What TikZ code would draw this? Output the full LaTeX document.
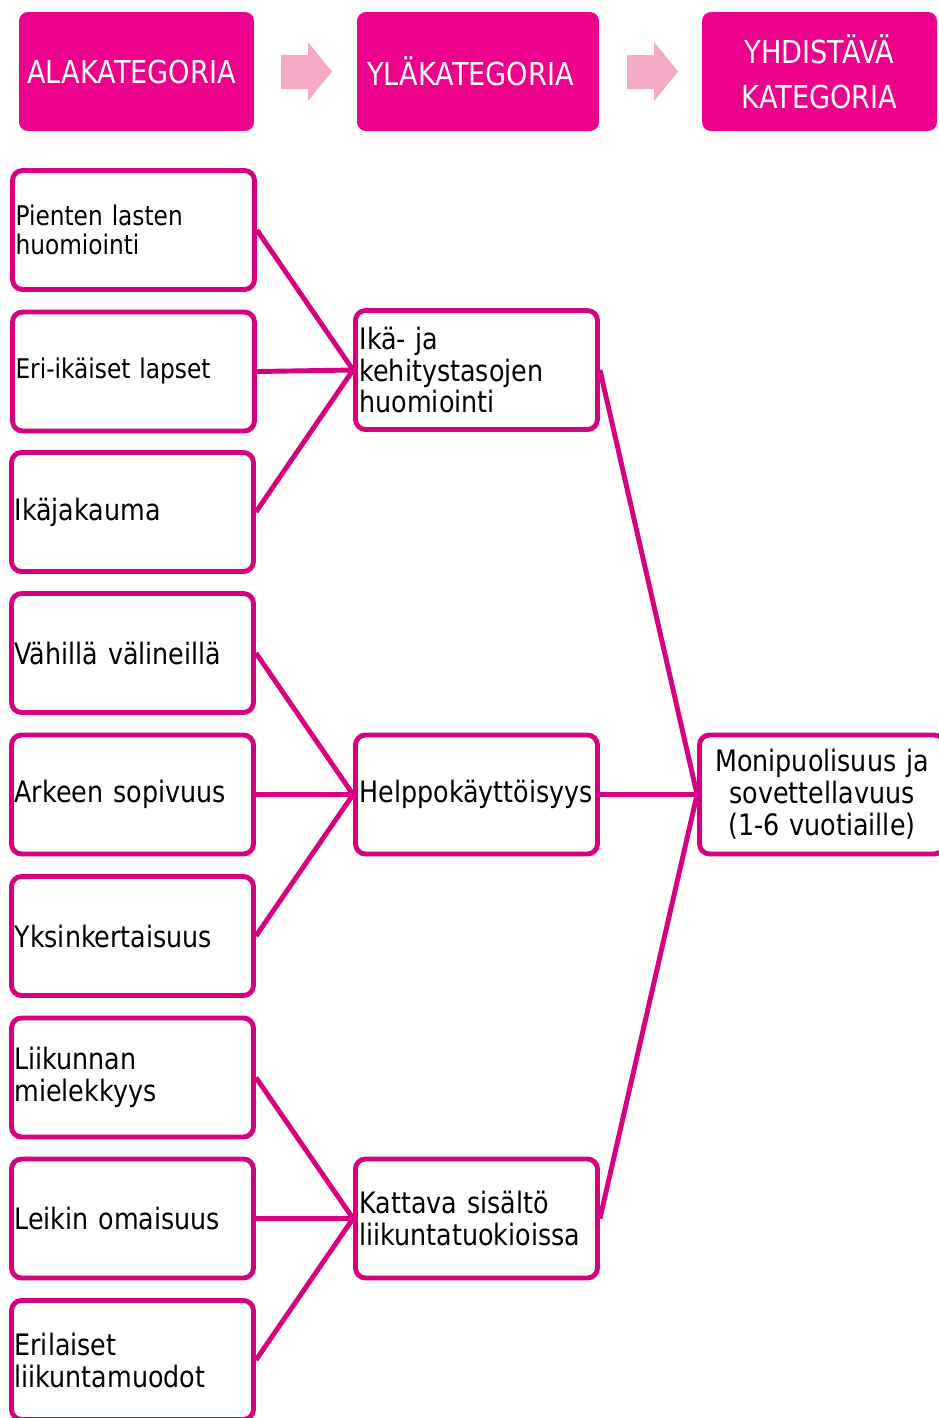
\documentclass[tikz,border=0pt]{standalone}
\usepackage{fontspec}
\setmainfont{DejaVu Sans}[FakeStretch=0.86]
\usetikzlibrary{positioning}

\definecolor{headpink}{RGB}{236,0,140}
\definecolor{linepink}{RGB}{214,0,128}
\definecolor{arrowpink}{RGB}{244,170,198}

\begin{document}
\begin{tikzpicture}[x=0.02cm, y=-0.02cm]
        \tikzset{
            header/.style={
                fill=headpink,
                rounded corners=0.18cm,
                text=white,
                align=center,
                inner sep=0pt,
                minimum height=2.38cm,
                font=\fontsize{18}{25.5}\selectfont
            },
            blockarrow/.style={fill=arrowpink},
            catbox/.style={
                draw=linepink,
                fill=white,
                line width=2.8pt,
                rounded corners=0.2cm,
                minimum height=2.38cm,
                inner ysep=0pt,
                font=\fontsize{16.8}{18.2}\selectfont
            },
            alabox/.style={catbox, text width=4.72cm, inner xsep=0.06cm, align=left},
            smalltext/.style={font=\fontsize{15.4}{16.4}\selectfont},
            ylabox/.style={catbox, text width=4.68cm, inner xsep=0.08cm, align=left},
            yhdbox/.style={catbox, text width=4.78cm, inner xsep=0.06cm, align=center},
            link/.style={draw=linepink, line width=2.8pt}
        }

        \useasboundingbox (0,0) rectangle (938,1418);

        % otsikot
        \node[header, minimum width=4.70cm] (headAla) at (136.5,71.5) {\hspace*{-0.2cm}ALAKATEGORIA};
        \node[header, minimum width=4.84cm] (headYla) at (478,71.5) {\hspace*{-0.3cm}YLÄKATEGORIA};
        \node[header, minimum width=4.70cm] (headYhd) at (819.5,71.5) {YHDISTÄVÄ\\KATEGORIA};

        \foreach \ax in {281, 627} {
            \fill[blockarrow, shift={(\ax,0)}]
                (0,55) -- (27,55) -- (27,42) -- (51,71.5) -- (27,101) -- (27,89) -- (0,89) -- cycle;
        }

        % alakategoriat
        \node[alabox, smalltext] (ala1) at (133.5,230) {Pienten lasten\\huomiointi};
        \node[alabox, smalltext] (ala2) at (133.5,371.5) {Eri-ikäiset lapset};
        \node[alabox] (ala3) at (132.5,512) {Ikäjakauma};
        \node[alabox] (ala4) at (132.5,653) {Vähillä välineillä};
        \node[alabox] (ala5) at (132.5,794.5) {Arkeen sopivuus};
        \node[alabox] (ala6) at (132.5,936) {Yksinkertaisuus};
        \node[alabox] (ala7) at (132.5,1077.5) {Liikunnan\\mielekkyys};
        \node[alabox] (ala8) at (132.5,1218.5) {Leikin omaisuus};
        \node[alabox] (ala9) at (132.5,1360) {Erilaiset\\liikuntamuodot};

        % yläkategoriat
        \node[ylabox] (yla1) at (476.5,370) {Ikä- ja\\kehitystasojen\\huomiointi};
        \node[ylabox] (yla2) at (476.5,794.5) {Helppokäyttöisyys};
        \node[ylabox] (yla3) at (476.5,1218.5) {Kattava sisältö\\liikuntatuokioissa};

        % yhdistävä kategoria
        \node[yhdbox] (yhd) at (822,794.5) {Monipuolisuus ja\\sovettellavuus\\(1-6 vuotiaille)};

        \foreach \a/\b in {ala1/yla1, ala2/yla1, ala3/yla1,
                           ala4/yla2, ala5/yla2, ala6/yla2,
                           ala7/yla3, ala8/yla3, ala9/yla3,
                           yla1/yhd, yla2/yhd, yla3/yhd} {
            \draw[link] (\a.east) -- (\b.west);
        }
\end{tikzpicture}
\end{document}
